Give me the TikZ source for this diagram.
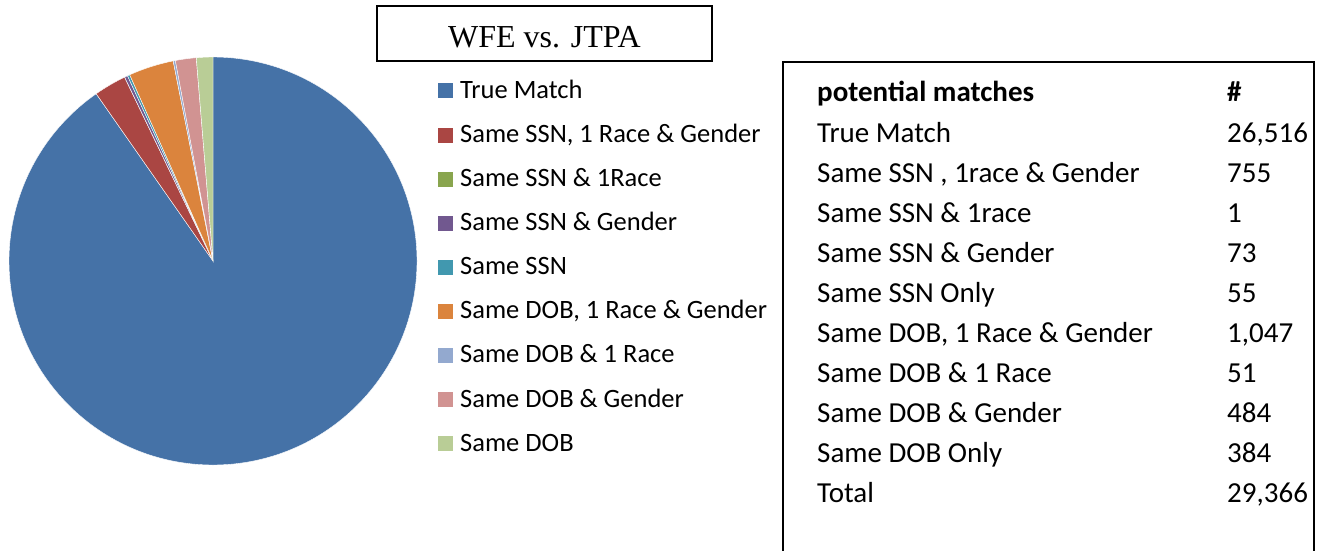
\documentclass[tikz,border=0pt]{standalone}
\usepackage{fontspec}
\newfontfamily\calfont{Carlito}
\newfontfamily\timesfont{Liberation Serif}
\definecolor{cblue}{HTML}{4572A7}
\definecolor{cred}{HTML}{AA4643}
\definecolor{cgreen}{HTML}{89A54E}
\definecolor{cpurple}{HTML}{71588F}
\definecolor{cteal}{HTML}{4198AF}
\definecolor{corange}{HTML}{DB843D}
\definecolor{clblue}{HTML}{93A9CF}
\definecolor{cpink}{HTML}{D19392}
\definecolor{clgreen}{HTML}{B9CD96}
\begin{document}
\begin{tikzpicture}[x=1pt,y=1pt,
  slice/.style={draw=white,line width=0.4pt},
  legsq/.style={minimum width=15pt,minimum height=15pt,inner sep=0pt,outer sep=0pt},
  legtxt/.style={anchor=base west,inner sep=0pt,font=\calfont\fontsize{26.5}{30}\selectfont},
  tabtxt/.style={anchor=base west,inner sep=0pt,font=\calfont\fontsize{29}{33}\selectfont},
  tabhead/.style={anchor=base west,inner sep=0pt,font=\calfont\bfseries\fontsize{29}{33}\selectfont},
  frame/.style={draw=black,line width=2pt}]
\useasboundingbox (0,0) rectangle (1321,550);
% pie
\coordinate (pc) at (213,289);
\def\R{204}
\foreach \a/\b/\c in {90/-235.063/cblue, -235.063/-244.319/cred, -244.319/-244.331/cgreen,
  -244.331/-245.226/cpurple, -245.226/-245.900/cteal, -245.900/-258.735/corange,
  -258.735/-259.360/clblue, -259.360/-265.294/cpink, -265.294/-270/clgreen}{
  \filldraw[fill=\c,slice] (pc) -- ++(\a:\R) arc[start angle=\a,end angle=\b,radius=\R] -- cycle;
}
% title
\draw[frame] (377,489) rectangle (712,544);
\node[anchor=base,inner sep=0pt,font=\timesfont\fontsize{32}{36}\selectfont] (title) at (544.5,502.3) {WFE vs. JTPA};
% legend
\foreach \i/\c/\t [count=\k] in {0/cblue/True Match, 1/cred/{Same SSN, 1 Race \& Gender}, 2/cgreen/Same SSN \& 1Race,
  3/cpurple/Same SSN \& Gender, 4/cteal/Same SSN, 5/corange/{Same DOB, 1 Race \& Gender},
  6/clblue/Same DOB \& 1 Race, 7/cpink/Same DOB \& Gender, 8/clgreen/Same DOB}{
  \pgfmathsetmacro\yy{550-(90+44.1*\i)}
  \node[legsq,fill=\c] (sq\k) at (445.5,\yy-1) {};
  \node[legtxt] (lt\k) at (460,\yy-8.3) {\t};
}
% table
\draw[frame] (783,-10) -- (783,488) -- (1314,488) -- (1314,-10);
\node[tabhead] (h1) at (817,448) {potential matches};
\node[tabhead] (h2) at (1227,448) {\#};
\foreach \t/\n [count=\k] in {True Match/{26,516}, {Same SSN , 1race \& Gender}/755, Same SSN \& 1race/1,
  Same SSN \& Gender/73, Same SSN Only/55, {Same DOB, 1 Race \& Gender}/{1,047}, Same DOB \& 1 Race/51,
  Same DOB \& Gender/484, Same DOB Only/384, Total/{29,366}}{
  \pgfmathsetmacro\yy{550-(142.5+40*(\k-1))}
  \node[tabtxt] (tl\k) at (817,\yy) {\t};
  \node[tabtxt] (tn\k) at (1227,\yy) {\n};
}
\end{tikzpicture}
\end{document}
